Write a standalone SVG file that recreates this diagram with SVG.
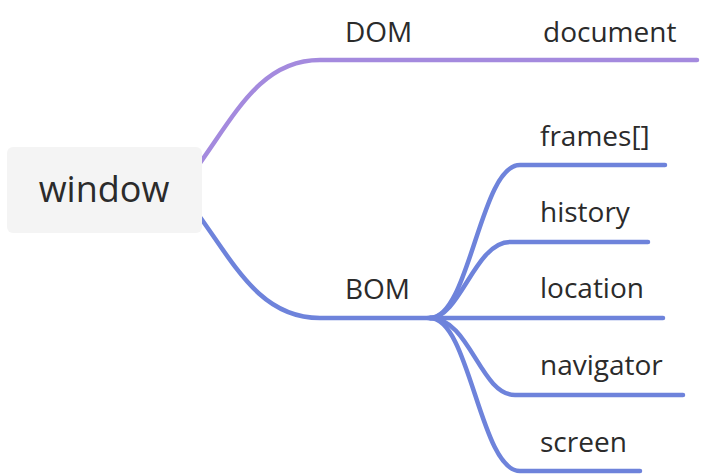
<svg xmlns="http://www.w3.org/2000/svg" width="702" height="476" viewBox="0 0 702 476">
<style>
.t{font-family:"Open Sans","Noto Sans","DejaVu Sans",sans-serif;fill:#2b2b2b;font-size:28px}
.root{font-size:36px}
.lk{fill:none;stroke-width:4.5;stroke-linecap:round}
.p{stroke:#a48ade}
.b{stroke:#6e83db}
</style>
<rect width="702" height="476" fill="#ffffff"/>
<g id="connectors">
<path class="lk p" d="M195 170 C235 115 260 60 320 60 L697 60"/>
<path class="lk b" d="M195 210 C235 265 260 318 320 318 L435 318"/>
<path class="lk b" d="M430 318 C470 318 480 165 520 165 L665 165"/>
<path class="lk b" d="M430 318 C460 318 475 242 510 242 L648 242"/>
<path class="lk b" d="M428 318 L663 318"/>
<path class="lk b" d="M430 318 C470 318 480 395 515 395 L683 395"/>
<path class="lk b" d="M430 318 C470 318 480 471 520 471 L640 471"/>
</g>
<g id="window">
<rect x="7" y="147" width="195" height="86" rx="6" fill="#f4f4f4"/>
<text class="t root" x="104" y="202" text-anchor="middle">window</text>
</g>
<g id="dom"><text class="t" x="345" y="42">DOM</text></g>
<g id="document"><text class="t" x="543" y="42">document</text></g>
<g id="bom"><text class="t" x="345" y="299">BOM</text></g>
<g id="frames"><text class="t" x="540" y="146">frames[]</text></g>
<g id="history"><text class="t" x="540" y="222">history</text></g>
<g id="location"><text class="t" x="540" y="298">location</text></g>
<g id="navigator"><text class="t" x="540" y="375">navigator</text></g>
<g id="screen"><text class="t" x="540" y="452">screen</text></g>
</svg>
